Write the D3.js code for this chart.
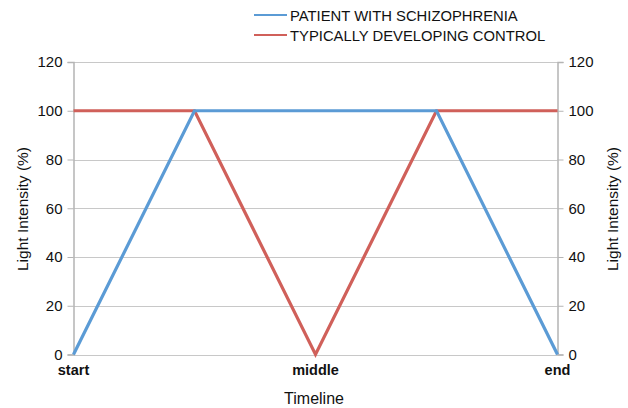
<!DOCTYPE html>
<html><head><meta charset="utf-8">
<script src="https://cdn.jsdelivr.net/npm/d3@7"></script>
<style>body{margin:0;background:#fff}text{font-family:"Liberation Sans",Arial,sans-serif}</style>
</head><body>
<svg id="c" width="628" height="408"></svg>
<script>
const categories = ["start", "", "middle", "", "end"];
const patient = [0, 100, 100, 100, 0];
const control = [100, 100, 0, 100, 100];
const yTicks = [0, 20, 40, 60, 80, 100, 120];
const seriesNames = ["PATIENT WITH SCHIZOPHRENIA", "TYPICALLY DEVELOPING CONTROL"];
const colors = ["#5b9bd5", "#d0605a"];

const svg = d3.select("#c");
const L = 73.5, R = 557.5, T = 62, B = 354.5;
const x = d3.scalePoint().domain(d3.range(categories.length)).range([L, R]);
const y = d3.scaleLinear().domain([0, 120]).range([B, T]);

// gridlines
svg.append("g").selectAll("line").data(yTicks).join("line")
  .attr("x1", L).attr("x2", R).attr("y1", d => Math.round(y(d)) + 0.5).attr("y2", d => Math.round(y(d)) + 0.5)
  .attr("stroke", "#c8c8c8").attr("stroke-width", 1);

const ga = svg.append("g").attr("transform", `translate(${L},0)`)
  .call(d3.axisLeft(y).tickValues(yTicks).tickSize(6).tickPadding(5));
const gb = svg.append("g").attr("transform", `translate(${R},0)`)
  .call(d3.axisRight(y).tickValues(yTicks).tickSize(6).tickPadding(5));
[ga, gb].forEach(g => {
  g.select(".domain").attr("stroke", "#b4b4b4").attr("stroke-width", 1.5);
  g.selectAll(".tick line").attr("stroke", "#b4b4b4");
  g.selectAll(".tick text").attr("font-size", 15).attr("fill", "#111").style("font-family", '"Liberation Sans",Arial,sans-serif');
});

// x axis labels
svg.append("g").selectAll("text").data(categories.map((c, i) => ({c, i})).filter(d => d.c)).join("text")
  .attr("x", d => x(d.i)).attr("y", 375).attr("text-anchor", "middle")
  .attr("font-size", 14.5).attr("font-weight", "bold").attr("fill", "#111").text(d => d.c);

// lines
const line = d3.line().x((d, i) => x(i)).y(d => y(d));
[control, patient].forEach((s, k) => {
  svg.append("path").datum(s).attr("d", line).attr("fill", "none")
    .attr("stroke", k === 0 ? colors[1] : colors[0]).attr("stroke-width", 3.2)
    .attr("stroke-linejoin", "miter");
});

// axis titles
svg.append("text").attr("transform", "translate(27.5,209) rotate(-90)").attr("text-anchor", "middle")
  .attr("font-size", 15.5).attr("fill", "#111").text("Light Intensity (%)");
svg.append("text").attr("transform", "translate(617.5,209) rotate(-90)").attr("text-anchor", "middle")
  .attr("font-size", 15.5).attr("fill", "#111").text("Light Intensity (%)");
svg.append("text").attr("x", 314).attr("y", 404).attr("text-anchor", "middle")
  .attr("font-size", 16).attr("fill", "#111").text("Timeline");

// legend
const lg = svg.append("g");
seriesNames.forEach((n, i) => {
  const yy = 15 + i * 20;
  lg.append("line").attr("x1", 254).attr("x2", 287).attr("y1", yy).attr("y2", yy)
    .attr("stroke", colors[i]).attr("stroke-width", 2);
  lg.append("text").attr("x", 290).attr("y", yy + 5.5).attr("font-size", 14.8).attr("fill", "#111").text(n);
});
</script>
</body></html>
